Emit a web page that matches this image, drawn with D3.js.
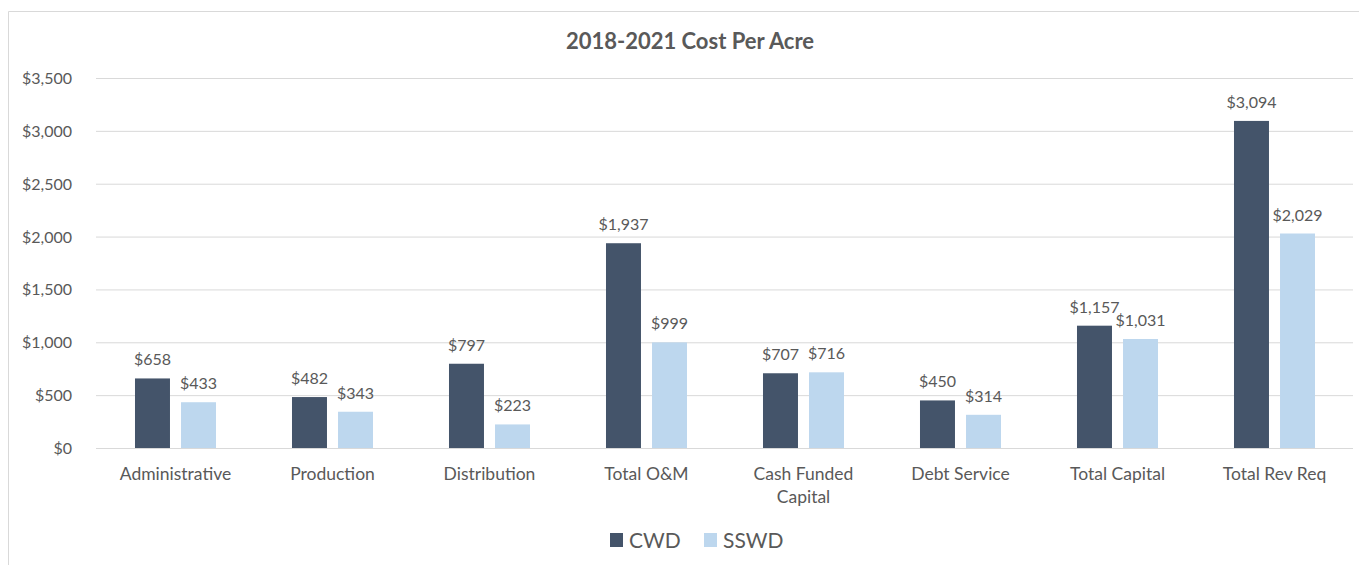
<!DOCTYPE html>
<html lang="en">

<head>
  <meta charset="UTF-8">
  <title>2018-2021 Cost Per Acre</title>
  <script src="https://d3js.org/d3.v7.min.js"></script>
  <style>
    body {
      margin: 0;
      background: #fff;
      font-family: Lato, "Open Sans", sans-serif;
    }

    .grid line {
      stroke: #d9d9d9;
      stroke-width: 1;
    }

    .grid .domain {
      display: none;
    }

    .tick-label,
    .val-label {
      fill: #595959;
      font-size: 16px;
    }

    .cat-label {
      fill: #595959;
      font-size: 17.5px;
    }
  </style>
</head>

<body>
  <svg width="1359" height="565"></svg>

  <script>
    const categories = ['Administrative', 'Production', 'Distribution', 'Total O&M',
      'Cash Funded Capital', 'Debt Service', 'Total Capital', 'Total Rev Req'];
    const series = ['CWD', 'SSWD'];
    const cwd = [658, 482, 797, 1937, 707, 450, 1157, 3094];
    const sswd = [433, 343, 223, 999, 716, 314, 1031, 2029];
    const yTicks = [0, 500, 1000, 1500, 2000, 2500, 3000, 3500];
    const colors = ['#44546a', '#bdd7ee'];

    const values = [cwd, sswd];
    const plotLeft = 97, plotRight = 1353, plotTop = 78, plotBottom = 448;

    const svg = d3.select('svg');

    // chart frame (only left and top edges visible in crop)
    svg.append('path')
      .attr('d', 'M8.5,565 V11.5 H1359')
      .attr('fill', 'none')
      .attr('stroke', '#d9d9d9');

    svg.append('text')
      .attr('x', 690)
      .attr('y', 49)
      .attr('text-anchor', 'middle')
      .attr('font-size', '22px')
      .attr('font-weight', 'bold')
      .attr('fill', '#595959')
      .text('2018-2021 Cost Per Acre');

    const x0 = d3.scaleBand()
      .domain(categories)
      .range([plotLeft, plotRight])
      .paddingInner(0.484)
      .paddingOuter(0.242);

    const x1 = d3.scaleBand()
      .domain(series)
      .range([0, x0.bandwidth()])
      .paddingInner(0.24);

    const y = d3.scaleLinear()
      .domain([0, 3500])
      .range([plotBottom, plotTop]);

    //grid lines
    svg.append('g')
      .attr('class', 'grid')
      .attr('transform', `translate(${plotLeft - 1},0)`)
      .call(d3.axisLeft(y).tickValues(yTicks).tickSize(-(plotRight - plotLeft + 1)).tickFormat(''));

    //y labels
    svg.selectAll('.tick-label')
      .data(yTicks)
      .enter().append('text')
      .attr('class', 'tick-label')
      .attr('x', 72)
      .attr('y', d => y(d) + 6)
      .attr('text-anchor', 'end')
      .text(d => '$' + d3.format(',')(d));

    //bars
    const groups = svg.selectAll('.cat')
      .data(categories)
      .enter().append('g')
      .attr('class', 'cat')
      .attr('transform', d => `translate(${x0(d)},0)`);

    series.forEach((s, si) => {
      groups.append('rect')
        .attr('x', x1(s))
        .attr('y', (d, i) => y(values[si][i]))
        .attr('width', x1.bandwidth())
        .attr('height', (d, i) => plotBottom - y(values[si][i]))
        .attr('fill', colors[si]);

      groups.append('text')
        .attr('class', 'val-label')
        .attr('x', x1(s) + x1.bandwidth() / 2)
        .attr('y', (d, i) => y(values[si][i]) - 13)
        .attr('text-anchor', 'middle')
        .text((d, i) => '$' + d3.format(',')(values[si][i]));
    });

    //category labels, wrapped like the original
    const wrap = { 'Cash Funded Capital': ['Cash Funded', 'Capital'] };
    svg.selectAll('.cat-label')
      .data(categories)
      .enter().append('text')
      .attr('class', 'cat-label')
      .attr('text-anchor', 'middle')
      .attr('x', d => x0(d) + x0.bandwidth() / 2)
      .attr('y', 480)
      .each(function (d) {
        const lines = wrap[d] || [d];
        d3.select(this).selectAll('tspan')
          .data(lines)
          .enter().append('tspan')
          .attr('x', x0(d) + x0.bandwidth() / 2)
          .attr('dy', (l, i) => i === 0 ? 0 : 23)
          .text(l => l);
      });

    //legend
    const legend = svg.append('g').attr('transform', 'translate(610,533)');
    const lx = [0, 94];
    series.forEach((s, i) => {
      legend.append('rect')
        .attr('x', lx[i])
        .attr('y', 0)
        .attr('width', 13)
        .attr('height', 14)
        .attr('fill', colors[i]);
      legend.append('text')
        .attr('x', lx[i] + 19)
        .attr('y', 15)
        .attr('font-size', '21px')
        .attr('fill', '#595959')
        .text(s);
    });
  </script>
</body>

</html>
